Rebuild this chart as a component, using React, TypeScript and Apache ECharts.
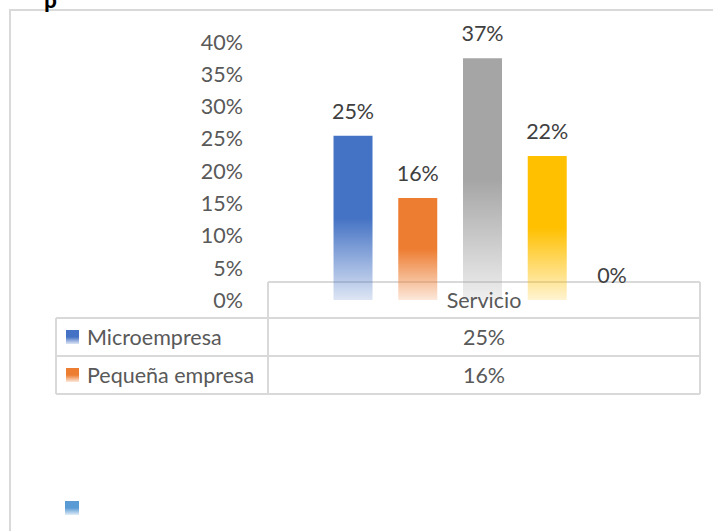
import React, { useEffect, useRef } from "react";
import * as echarts from "echarts";

const categories = ["Servicio"];
const seriesNames = ["Microempresa", "Pequeña empresa", "Mediana empresa", "Gran empresa", "Otros"];
const seriesValues = [25.4, 15.8, 37.4, 22.3, 0];
const seriesColors = ["#4472c4", "#ed7d31", "#a5a5a5", "#ffc000", "#5b9bd5"];
const yMin = 0;
const yMax = 40;
const yInterval = 5;
const tableRowsShown = 2;

const FONT = "Lato";
const FS = 21.5;

function rgba(hex: string, a: number) {
  const n = parseInt(hex.slice(1), 16);
  return `rgba(${(n >> 16) & 255},${(n >> 8) & 255},${n & 255},${a})`;
}

function grad(hex: string) {
  return new echarts.graphic.LinearGradient(0, 0, 0, 1, [
    { offset: 0, color: hex },
    { offset: 0.5, color: hex },
    { offset: 1, color: rgba(hex, 0.18) },
  ]);
}

export default function App() {
  const ref = useRef<HTMLDivElement>(null);
  useEffect(() => {
    if (!ref.current) return;
    const chart = echarts.init(ref.current, undefined, { renderer: "svg" });
    const lineColor = "#d9d9d9";
    const tblLeft = 56;
    const colDiv = 268;
    const tblRight = 700;
    const headTop = 282;
    const headBottom = 318;
    const rowH = 38;
    const tblBottom = headBottom + rowH * tableRowsShown;
    const cellCenter = (colDiv + tblRight) / 2;

    const graphics: any[] = [];
    const ln = (x1: number, y1: number, x2: number, y2: number) => ({
      type: "line",
      z: 1,
      shape: { x1, y1, x2, y2 },
      style: { stroke: lineColor, lineWidth: 2 },
    });
    // outer chart frame
    graphics.push({
      type: "rect",
      z: 0,
      shape: { x: 10, y: 10, width: 740, height: 560 },
      style: { fill: "none", stroke: lineColor, lineWidth: 2 },
    });
    // cut-off title
    graphics.push({
      type: "text",
      z: 5,
      x: 44,
      y: -13,
      style: {
        text: "p",
        fill: "#000000",
        fontSize: 24,
        fontWeight: "bold",
        fontFamily: "Calibri, " + FONT,
        align: "left",
        verticalAlign: "top",
      },
    });
    // table lines
    graphics.push(ln(colDiv, headTop, tblRight, headTop));
    for (let i = 0; i <= tableRowsShown; i++) {
      const y = headBottom + i * rowH;
      graphics.push(ln(tblLeft, y, tblRight, y));
    }
    graphics.push(ln(tblLeft, headBottom, tblLeft, tblBottom));
    graphics.push(ln(colDiv, headTop, colDiv, tblBottom));
    graphics.push(ln(tblRight, headTop, tblRight, tblBottom));
    // header
    categories.forEach((c) => {
      graphics.push({
        type: "text",
        z: 5,
        x: cellCenter,
        y: (headTop + headBottom) / 2,
        style: {
          text: c,
          fill: "#595959",
          fontSize: FS,
          fontFamily: FONT,
          align: "center",
          verticalAlign: "middle",
        },
      });
    });
    for (let i = 0; i < tableRowsShown; i++) {
      const top = headBottom + i * rowH;
      graphics.push({
        type: "rect",
        z: 5,
        shape: { x: 66, y: top + 12, width: 13, height: 14 },
        style: { fill: grad(seriesColors[i]) },
      });
      graphics.push({
        type: "text",
        z: 5,
        x: 87,
        y: top + rowH / 2,
        style: {
          text: seriesNames[i],
          fill: "#595959",
          fontSize: FS,
          fontFamily: FONT,
          align: "left",
          verticalAlign: "middle",
        },
      });
      graphics.push({
        type: "text",
        z: 5,
        x: cellCenter,
        y: top + rowH / 2,
        style: {
          text: Math.round(seriesValues[i]) + "%",
          fill: "#595959",
          fontSize: FS,
          fontFamily: FONT,
          align: "center",
          verticalAlign: "middle",
        },
      });
    }
    // stray legend key of the 5th series
    graphics.push({
      type: "rect",
      z: 5,
      shape: { x: 65, y: 501, width: 14, height: 14 },
      style: { fill: grad(seriesColors[4]) },
    });

    chart.setOption({
      animation: false,
      grid: { left: 267, right: 15, top: 41.5, bottom: 231 },
      xAxis: {
        type: "category",
        data: categories,
        axisLine: { show: false },
        axisTick: { show: false },
        axisLabel: { show: false },
      },
      yAxis: {
        type: "value",
        min: yMin,
        max: yMax,
        interval: yInterval,
        splitLine: { show: false },
        axisLine: { show: false },
        axisTick: { show: false },
        axisLabel: {
          formatter: "{value}%",
          margin: 24,
          color: "#595959",
          fontSize: FS,
          fontFamily: FONT,
        },
      },
      graphic: { elements: graphics },
      series: seriesNames.map((name, i) => ({
        name,
        type: "bar",
        z: 3,
        data: [seriesValues[i]],
        barWidth: 39,
        barGap: "66%",
        itemStyle: { color: grad(seriesColors[i]) },
        label: {
          show: true,
          position: "top",
          distance: 14,
          color: "#404040",
          fontSize: FS,
          fontFamily: FONT,
          formatter: (p: any) => Math.round(p.value) + "%",
        },
      })),
    });
    return () => chart.dispose();
  }, []);
  return (
    <div
      ref={ref}
      style={{ position: "absolute", left: 0, top: 0, width: 713, height: 531, background: "#fff" }}
    />
  );
}
